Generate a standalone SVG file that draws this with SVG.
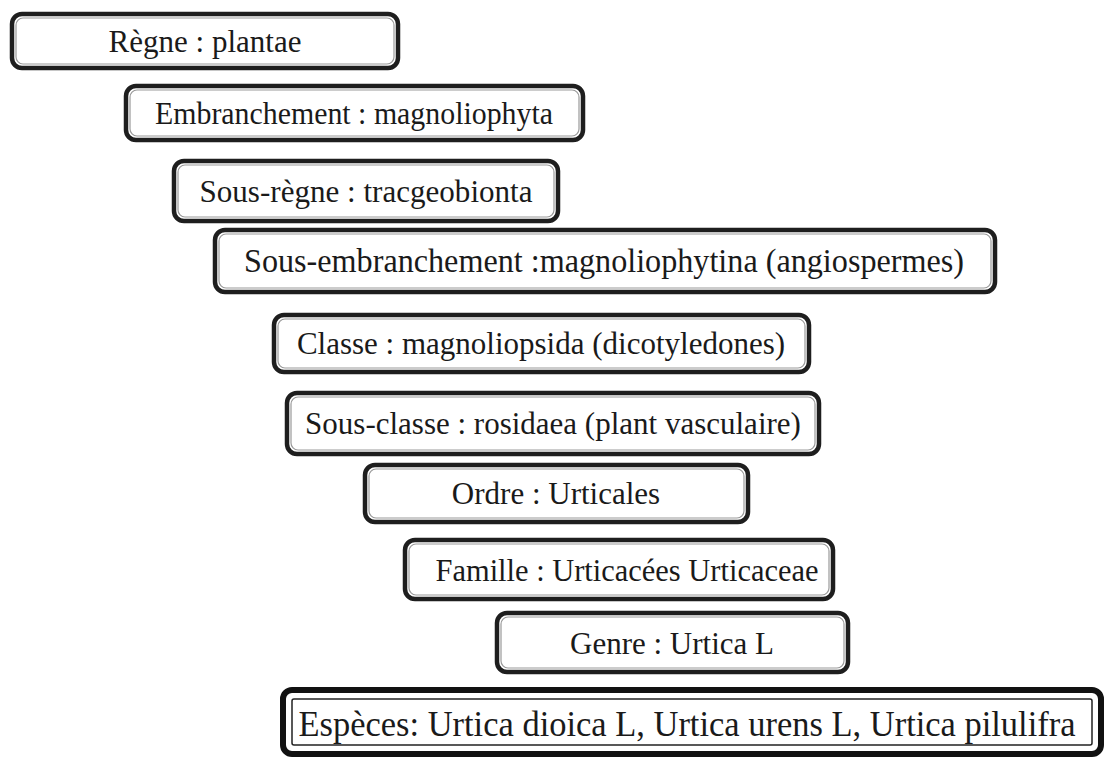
<svg xmlns="http://www.w3.org/2000/svg" width="1105" height="760" viewBox="0 0 1105 760">
<style>
.b{fill:#fff;stroke:#1e1e1e;stroke-width:4.5}
.bi{fill:none;stroke:#9a9a9a;stroke-width:1.2}
.t{font-family:"Liberation Serif","Times New Roman",serif;font-size:31px;fill:#1a1a1a;text-anchor:middle}
</style>
<rect width="1105" height="760" fill="#fff"/>
<g id="n1"><rect class="b" x="12" y="14" width="386" height="54" rx="10"/><rect class="bi" x="16" y="18" width="378" height="46" rx="7"/><text class="t" x="205" y="52">Règne : plantae</text></g>
<g id="n2"><rect class="b" x="126" y="86" width="457" height="54" rx="10"/><rect class="bi" x="130" y="90" width="449" height="46" rx="7"/><text class="t" x="354" y="124" textLength="398" lengthAdjust="spacingAndGlyphs">Embranchement : magnoliophyta</text></g>
<g id="n3"><rect class="b" x="174" y="161" width="384" height="60" rx="10"/><rect class="bi" x="178" y="165" width="376" height="52" rx="7"/><text class="t" x="366" y="202" textLength="333" lengthAdjust="spacingAndGlyphs">Sous-règne : tracgeobionta</text></g>
<g id="n4"><rect class="b" x="215" y="230" width="780" height="62" rx="10"/><rect class="bi" x="219" y="234" width="772" height="54" rx="7"/><text class="t" x="604" y="272" style="font-size:33px" textLength="720" lengthAdjust="spacingAndGlyphs">Sous-embranchement :magnoliophytina (angiospermes)</text></g>
<g id="n5"><rect class="b" x="274" y="315" width="535" height="57" rx="10"/><rect class="bi" x="278" y="319" width="527" height="49" rx="7"/><text class="t" x="541" y="354">Classe : magnoliopsida (dicotyledones)</text></g>
<g id="n6"><rect class="b" x="287" y="393" width="532" height="61" rx="10"/><rect class="bi" x="291" y="397" width="524" height="53" rx="7"/><text class="t" x="553" y="434">Sous-classe : rosidaea (plant vasculaire)</text></g>
<g id="n7"><rect class="b" x="365" y="465" width="383" height="57" rx="10"/><rect class="bi" x="369" y="469" width="375" height="49" rx="7"/><text class="t" x="556" y="504">Ordre : Urticales</text></g>
<g id="n8"><rect class="b" x="405" y="540" width="428" height="59" rx="10"/><rect class="bi" x="409" y="544" width="420" height="51" rx="7"/><text class="t" x="627" y="581" textLength="383" lengthAdjust="spacingAndGlyphs">Famille : Urticacées Urticaceae</text></g>
<g id="n9"><rect class="b" x="497" y="613" width="351" height="59" rx="10"/><rect class="bi" x="501" y="617" width="343" height="51" rx="7"/><text class="t" x="672" y="654">Genre : Urtica L</text></g>
<g id="n10"><rect x="283" y="690" width="818" height="64" rx="9" fill="#fff" stroke="#111" stroke-width="6"/><rect x="292" y="699" width="800" height="46" rx="2" fill="none" stroke="#222" stroke-width="1.5"/><text class="t" x="687" y="736" style="font-size:35px" textLength="777" lengthAdjust="spacingAndGlyphs">Espèces: Urtica dioica L, Urtica urens L, Urtica pilulifra</text></g>
<g id="connectors"/>
</svg>
